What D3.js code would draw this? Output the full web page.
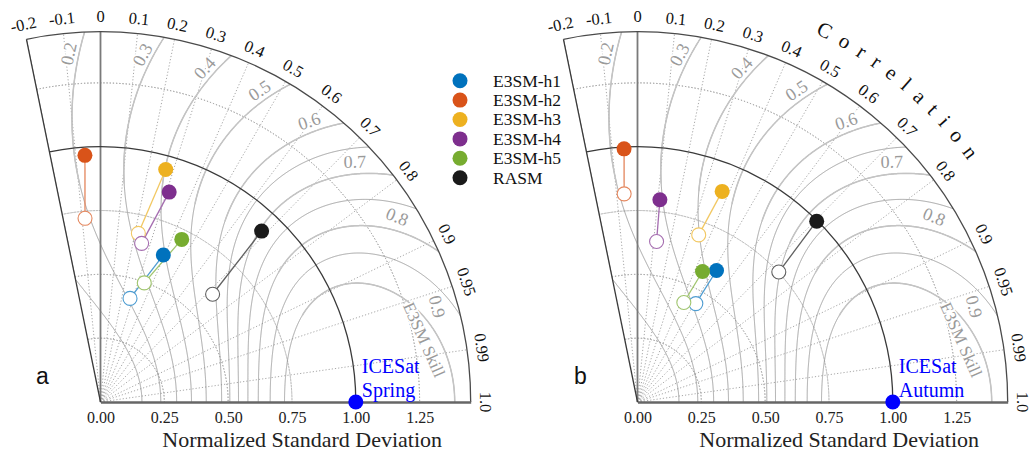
<!DOCTYPE html>
<html>
<head>
<meta charset="utf-8">
<script src="https://cdn.jsdelivr.net/npm/d3@7"></script>
<style>
  body { margin: 0; background: #fff; }
  svg { display: block; }
</style>
</head>
<body>
<svg id="chart" width="1032" height="453"></svg>
<script>
// ---- data ----
const modelNames  = ["E3SM-h1", "E3SM-h2", "E3SM-h3", "E3SM-h4", "E3SM-h5", "RASM"];
const modelColors = ["#0072bd", "#d95319", "#edb120", "#7e2f8e", "#77ac30", "#1a1a1a"];

// spring (panel a): filled markers and open markers
const springStd      = [0.626, 0.968, 0.946, 0.865, 0.712, 0.920];
const springCorr     = [0.393, -0.063, 0.270, 0.311, 0.447, 0.686];
const springStdOpen  = [0.422, 0.722, 0.677, 0.642, 0.497, 0.609];
const springCorrOpen = [0.274, -0.084, 0.219, 0.251, 0.345, 0.721];

// autumn (panel b)
const autumnStd      = [0.601, 0.993, 0.889, 0.797, 0.571, 0.997];
const autumnCorr     = [0.515, -0.053, 0.373, 0.110, 0.446, 0.704];
const autumnStdOpen  = [0.448, 0.817, 0.697, 0.633, 0.430, 0.752];
const autumnCorrOpen = [0.510, -0.064, 0.344, 0.118, 0.422, 0.736];

const refStd = 1.0, refCorr = 1.0;
const refNames = [["ICESat", "Spring"], ["ICESat", "Autumn"]];
const panelLetters = ["a", "b"];

const corrTicks      = [-0.2, -0.1, 0, 0.1, 0.2, 0.3, 0.4, 0.5, 0.6, 0.7, 0.8, 0.9, 0.95, 0.99, 1.0];
const corrTickLabels = ["-0.2", "-0.1", "0", "0.1", "0.2", "0.3", "0.4", "0.5", "0.6", "0.7", "0.8", "0.9", "0.95", "0.99", "1.0"];
const corrGridLines  = [-0.1, 0.1, 0.2, 0.3, 0.4, 0.5, 0.6, 0.7, 0.8, 0.9, 0.95, 0.99];
const stdTicks       = [0, 0.25, 0.5, 0.75, 1.0, 1.25];
const stdTickLabels  = ["0.00", "0.25", "0.50", "0.75", "1.00", "1.25"];
const stdGridLevels  = [0.25, 0.5, 0.75, 1.25];

const skillLevels      = [0.1, 0.2, 0.3, 0.4, 0.5, 0.6, 0.65, 0.7, 0.75, 0.8, 0.85, 0.9];
const skillLabelLevels = [0.2, 0.3, 0.4, 0.5, 0.6, 0.7, 0.8, 0.9];
const skillLabelTexts  = ["0.2", "0.3", "0.4", "0.5", "0.6", "0.7", "0.8", "0.9"];

// ---- layout ----
const stdMax = 1.45, corrMin = -0.2;
const unit = 255.3;
const origins = [[100.5, 402], [637.5, 402]];
const serif = "'Liberation Serif', 'Times New Roman', serif";
const sans = "'Liberation Sans', Arial, sans-serif";

const svg = d3.select("#chart");
const rScale = d3.scaleLinear().domain([0, stdMax]).range([0, stdMax * unit]);
const thetaMax = Math.acos(corrMin);
// d3 radial angles are clockwise from 12 o'clock
const ang = R => Math.PI / 2 - Math.acos(Math.max(-1, Math.min(1, R)));
const polar = (s, R) => {
  const a = ang(R);
  return [rScale(s) * Math.sin(a), -rScale(s) * Math.cos(a)];
};

// contour of the skill score S = (1+R)^2 / (s + 1/s)^2, traced over angle
function skillContour(S) {
  const q = Math.sqrt(S);
  const cEnd = 2 * q - 1;
  const thEnd = cEnd >= -1 ? Math.min(Math.acos(cEnd), thetaMax) : thetaMax;
  const lo = [], hi = [];
  const n = 500;
  for (let i = 0; i <= n; i++) {
    const t = i / n;
    const th = thEnd * (1 - (1 - t) * (1 - t));
    const c = (1 + Math.cos(th)) / q;
    const d = Math.sqrt(Math.max(0, c * c - 4));
    lo.push({ s: (c - d) / 2, R: Math.cos(th) });
    hi.push({ s: (c + d) / 2, R: Math.cos(th) });
  }
  return lo.concat(hi.reverse());
}

const radialLine = d3.lineRadial().angle(d => ang(d.R)).radius(d => rScale(d.s));
const arcGen = d3.arc();

const panelData = [
  { std: springStd, corr: springCorr, stdO: springStdOpen, corrO: springCorrOpen },
  { std: autumnStd, corr: autumnCorr, stdO: autumnStdOpen, corrO: autumnCorrOpen }
];

const defs = svg.append("defs");

panelData.forEach((pd, pi) => {
  const [ox, oy] = origins[pi];
  const g = svg.append("g").attr("transform", `translate(${ox},${oy})`);

  // wedge clip
  const wedge = arcGen({ innerRadius: 0, outerRadius: rScale(stdMax),
                         startAngle: ang(corrMin), endAngle: Math.PI / 2 });
  defs.append("clipPath").attr("id", "wedge" + pi).append("path").attr("d", wedge);
  defs.append("clipPath").attr("id", "outer" + pi).append("path")
    .attr("d", arcGen({ innerRadius: rScale(0.86), outerRadius: rScale(stdMax),
                        startAngle: ang(corrMin), endAngle: Math.PI / 2 }));

  // dotted std-dev arcs
  g.selectAll(".sgrid").data(stdGridLevels).join("path")
    .attr("d", s => arcGen({ innerRadius: rScale(s), outerRadius: rScale(s),
                             startAngle: ang(corrMin), endAngle: Math.PI / 2 }))
    .attr("fill", "none").attr("stroke", "#a8a8a8").attr("stroke-width", 1)
    .attr("stroke-dasharray", "1.2,2");

  // dotted correlation rays
  g.selectAll(".cgrid").data(corrGridLines).join("line")
    .attr("x1", 0).attr("y1", 0)
    .attr("x2", R => polar(stdMax, R)[0]).attr("y2", R => polar(stdMax, R)[1])
    .attr("stroke", "#a8a8a8").attr("stroke-width", 1).attr("stroke-dasharray", "1.2,2");

  // skill contours
  const cg = g.append("g").attr("clip-path", `url(#wedge${pi})`);
  cg.selectAll(".sk").data(skillLevels).join("path")
    .attr("d", S => radialLine(skillContour(S)))
    .attr("fill", "none").attr("stroke", "#8e8e8e").attr("stroke-width", 0.8);
  const lg = g.append("g").attr("clip-path", `url(#outer${pi})`);
  lg.selectAll(".skl").data(skillLabelLevels).join("path")
    .attr("d", S => radialLine(skillContour(S)))
    .attr("fill", "none").attr("stroke", "#c4c4c4").attr("stroke-width", 1.5);

  // skill labels
  skillLabelLevels.forEach((S, k) => {
    const q = Math.sqrt(S);
    const Rat = s => q * (s + 1 / s) - 1;
    const sL = 1.37;
    const p = polar(sL, Rat(sL) - 0.03);
    const a1 = polar(1.35, Math.min(1, Rat(1.35))), a2 = polar(1.39, Math.min(1, Rat(1.39)));
    let rot = Math.atan2(a2[1] - a1[1], a2[0] - a1[0]) * 180 / Math.PI;
    if (rot > 90) rot -= 180;
    if (rot <= -90) rot += 180;
    g.append("text")
      .attr("transform", `translate(${p[0]},${p[1]}) rotate(${rot})`)
      .attr("text-anchor", "middle").attr("dominant-baseline", "central")
      .attr("font-family", serif).attr("font-size", 18).attr("fill", "#9a9a9a")
      .attr("stroke", "#fff").attr("stroke-width", 4).attr("paint-order", "stroke")
      .text(skillLabelTexts[k]);
  });
  const pe = polar(1.29, 0.982);
  g.append("text")
    .attr("transform", `translate(${pe[0]},${pe[1]}) rotate(66)`)
    .attr("text-anchor", "middle").attr("dominant-baseline", "central")
    .attr("font-family", serif).attr("font-size", 17).attr("fill", "#9a9a9a")
    .attr("stroke", "#fff").attr("stroke-width", 3).attr("paint-order", "stroke")
    .text("E3SM Skill");

  // frame: zero-correlation line, unit arc, outer arc, boundary, baseline
  const zp = polar(stdMax, 0);
  g.append("line").attr("x1", 0).attr("y1", 0).attr("x2", zp[0]).attr("y2", zp[1])
    .attr("stroke", "#7a7a7a").attr("stroke-width", 1.8);
  g.append("path")
    .attr("d", arcGen({ innerRadius: rScale(1), outerRadius: rScale(1),
                        startAngle: ang(corrMin), endAngle: Math.PI / 2 }))
    .attr("fill", "none").attr("stroke", "#3a3a3a").attr("stroke-width", 1.3);
  g.append("path")
    .attr("d", arcGen({ innerRadius: rScale(stdMax), outerRadius: rScale(stdMax),
                        startAngle: ang(corrMin), endAngle: Math.PI / 2 }))
    .attr("fill", "none").attr("stroke", "#4a4a4a").attr("stroke-width", 1.3);
  const lp = polar(stdMax, corrMin);
  g.append("line").attr("x1", 0).attr("y1", 0).attr("x2", lp[0]).attr("y2", lp[1])
    .attr("stroke", "#3a3a3a").attr("stroke-width", 1.3);

  // std axis along the baseline
  const axis = d3.axisBottom(rScale).tickValues(stdTicks)
    .tickFormat((d, i) => stdTickLabels[i]).tickSize(0).tickPadding(9.5);
  const ax = g.append("g").call(axis);
  ax.select(".domain").attr("stroke", "#666").attr("stroke-width", 2.6);
  ax.selectAll("text").attr("font-family", serif).attr("font-size", 16).attr("fill", "#222");

  // correlation tick labels
  corrTicks.forEach((R, k) => {
    const th = Math.acos(R);
    const rr = rScale(stdMax) + 15;
    const x = rr * Math.cos(th), y = -rr * Math.sin(th);
    g.append("text")
      .attr("transform", `translate(${x},${y}) rotate(${90 - th * 180 / Math.PI})`)
      .attr("text-anchor", "middle").attr("dominant-baseline", "central")
      .attr("font-family", serif).attr("font-size", 16.5).attr("fill", "#111")
      .text(corrTickLabels[k]);
  });

  // axis title
  g.append("text").attr("x", rScale(0.79)).attr("y", 45)
    .attr("text-anchor", "middle").attr("font-family", serif).attr("font-size", 22)
    .attr("fill", "#222").text("Normalized Standard Deviation");

  // model markers: open -> filled with connecting line
  const idx = d3.range(modelNames.length);
  const light = i => d3.interpolateRgb(modelColors[i], "#ffffff")(0.3);
  g.selectAll(".link").data(idx).join("line")
    .attr("x1", i => polar(pd.stdO[i], pd.corrO[i])[0])
    .attr("y1", i => polar(pd.stdO[i], pd.corrO[i])[1])
    .attr("x2", i => polar(pd.std[i], pd.corr[i])[0])
    .attr("y2", i => polar(pd.std[i], pd.corr[i])[1])
    .attr("stroke", i => light(i)).attr("stroke-width", 1.3);
  g.selectAll(".open").data(idx).join("circle")
    .attr("cx", i => polar(pd.stdO[i], pd.corrO[i])[0])
    .attr("cy", i => polar(pd.stdO[i], pd.corrO[i])[1])
    .attr("r", 7).attr("fill", "#fff")
    .attr("stroke", i => light(i)).attr("stroke-width", 1.1);
  g.selectAll(".fill").data(idx).join("circle")
    .attr("cx", i => polar(pd.std[i], pd.corr[i])[0])
    .attr("cy", i => polar(pd.std[i], pd.corr[i])[1])
    .attr("r", 7.5).attr("fill", i => modelColors[i]);

  // reference point
  const rp = polar(refStd, refCorr);
  g.append("circle").attr("cx", rp[0]).attr("cy", rp[1]).attr("r", 7.5).attr("fill", "#0000ff");
  refNames[pi].forEach((t, k) => {
    g.append("text").attr("x", rp[0] + 6).attr("y", -29.5 + k * 24)
      .attr("font-family", serif).attr("font-size", 20).attr("fill", "#0000ff").text(t);
  });

  // panel letter
  g.append("text").attr("x", pi === 0 ? -58 : -57).attr("y", -18)
    .attr("text-anchor", "middle").attr("font-family", sans).attr("font-size", 23)
    .attr("fill", "#111").text(panelLetters[pi]);
});

// "Correlation" along the arc of panel b
{
  const [ox, oy] = origins[1];
  const rr = rScale(stdMax) + 39;
  const t0 = 76 * Math.PI / 180, t1 = 24 * Math.PI / 180;
  const p0 = [ox + rr * Math.cos(t0), oy - rr * Math.sin(t0)];
  const p1 = [ox + rr * Math.cos(t1), oy - rr * Math.sin(t1)];
  defs.append("path").attr("id", "corrArc")
    .attr("d", `M${p0[0]},${p0[1]} A${rr},${rr} 0 0 1 ${p1[0]},${p1[1]}`);
  svg.append("text").attr("font-family", serif).attr("font-size", 21)
    .attr("letter-spacing", 10.5).attr("fill", "#111")
    .append("textPath").attr("href", "#corrArc").attr("startOffset", "51%")
    .attr("text-anchor", "middle").text("Correlation");
}

// legend
const legend = svg.append("g").attr("transform", "translate(460,80.7)");
modelNames.forEach((name, i) => {
  legend.append("circle").attr("cx", 0).attr("cy", i * 19.4).attr("r", 7.5).attr("fill", modelColors[i]);
  legend.append("text").attr("x", 33).attr("y", i * 19.4 + 6)
    .attr("font-family", serif).attr("font-size", 17.5).attr("fill", "#111").text(name);
});
</script>
</body>
</html>
